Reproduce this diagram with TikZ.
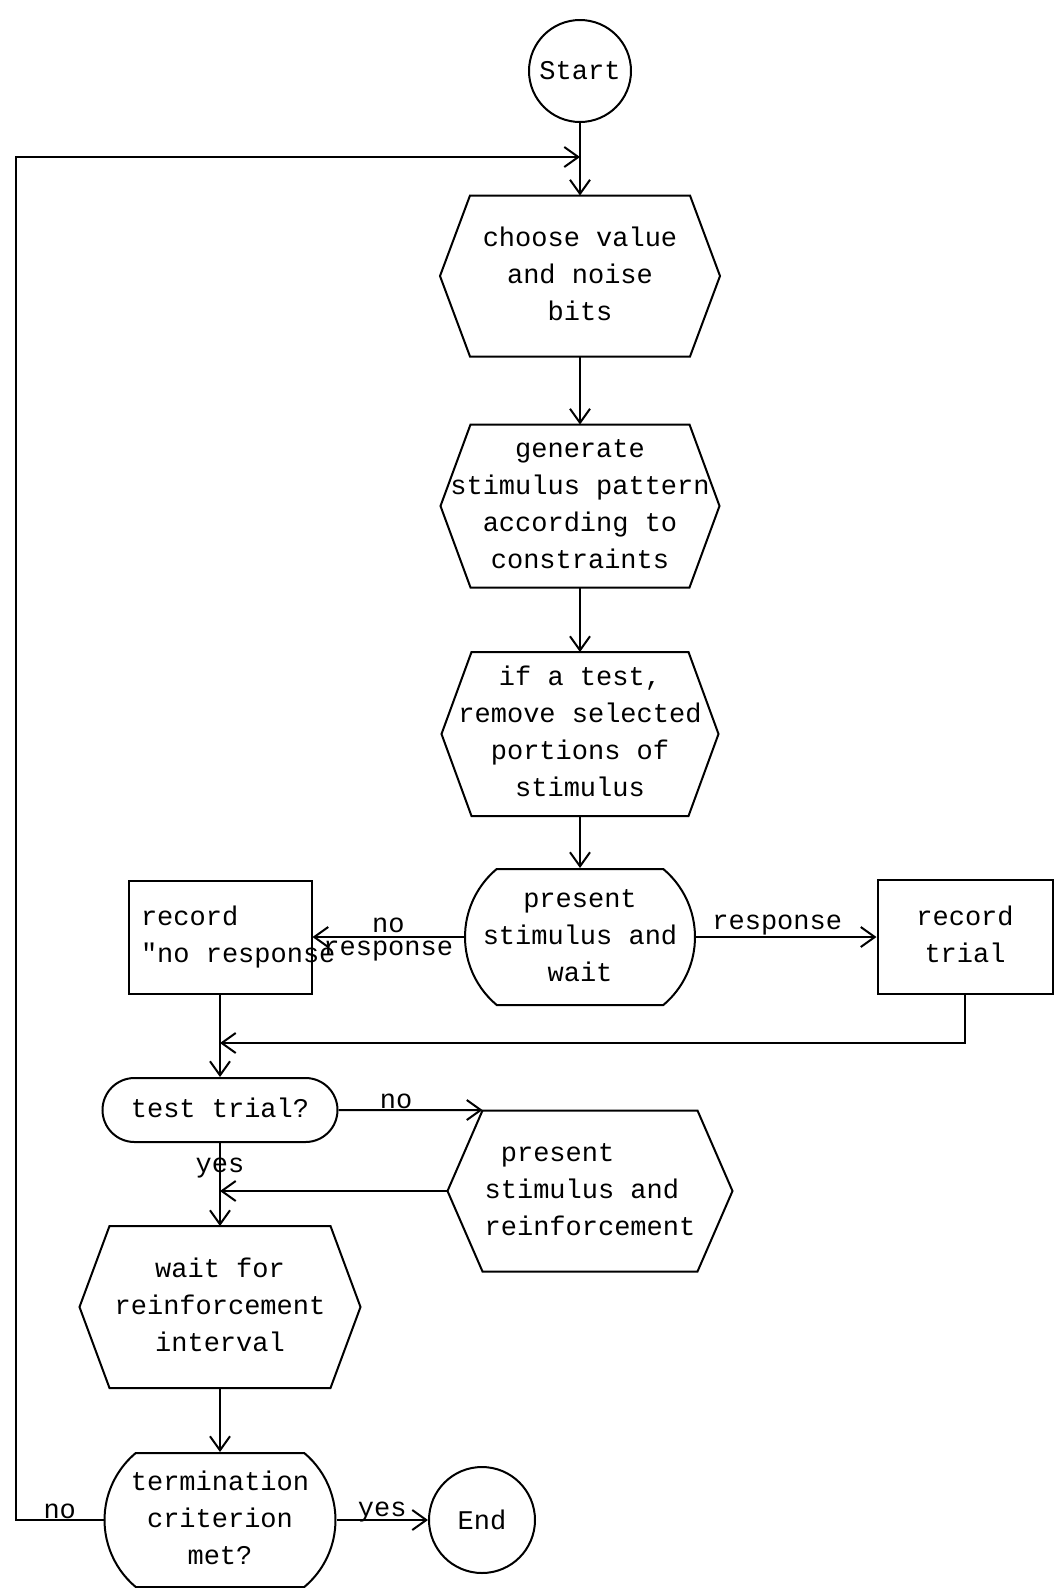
\documentclass[tikz,border=0pt]{standalone}
\usepackage{fontspec}
\setmainfont{Liberation Mono}[Ligatures=TeXOff]
\usetikzlibrary{arrows.meta,shapes.misc}

% hexagon round a text-less rectangle node, tips stick out by #1
\newcommand{\hexoutline}[2][30pt]{%
  \draw (#2.north west) -- (#2.north east) -- ([xshift=#1]#2.east)
    -- (#2.south east) -- (#2.south west) -- ([xshift=-#1]#2.west) -- cycle;}
\newcommand{\boxlines}[1]{\makebox[0pt]{\begin{tabular}{@{}c@{}}#1\end{tabular}}}
\newcommand{\boxlinesl}[1]{\makebox[0pt]{\begin{tabular}{@{}l@{}}#1\end{tabular}}}

\begin{document}
\begin{tikzpicture}[x=1pt, y=-1pt, line width=2pt,
  >={Straight Barb[length=14pt,width=20pt]},
  every node/.style={font=\fontsize{27}{37}\selectfont},
  circ/.style={draw, circle, inner sep=0pt},
  blk/.style={draw, rectangle, inner sep=0pt},
  hexa/.style={rectangle, inner sep=0pt},
  bulge/.style={draw, rounded rectangle, rounded rectangle arc length=100, inner sep=0pt},
  pill/.style={draw, rounded rectangle, inner sep=0pt}]
 \useasboundingbox (0,0) rectangle (1054,1588);

 % main column
 \node [circ, minimum size=102pt] (start) at (580,71) {Start};
 \coordinate (j1) at (580,157);
 \node [hexa, minimum width=218pt, minimum height=159pt] (hex1) at (580,276)
   {\boxlines{choose value\\and noise\\bits}};
 \node [hexa, minimum width=217pt, minimum height=161pt] (hex2) at (580,506)
   {\boxlines{generate\\stimulus pattern\\according to\\constraints}};
 \node [hexa, minimum width=215pt, minimum height=162pt] (hex3) at (580,734)
   {\boxlines{if a test,\\remove selected\\portions of\\stimulus}};
 \node [bulge, minimum width=230pt, minimum height=136pt] (present) at (580,937)
   {\boxlines{present\\stimulus and\\wait}};
 \hexoutline{hex1}
 \hexoutline{hex2}
 \hexoutline{hex3}

 % side boxes
 \node [blk, minimum width=183pt, minimum height=113pt] (recnr) at (220,937)
   {\makebox[0pt][l]{\hspace*{-79pt}\begin{tabular}{@{}l@{}}record\\"no response\end{tabular}}};
 \node [blk, minimum width=175pt, minimum height=114pt] (rectr) at (965,937)
   {\boxlines{record\\trial}};
 \coordinate (j2) at (220,1043);

 % lower part
 \node [pill, minimum width=235pt, minimum height=64pt] (test) at (220,1110) {\boxlines{test trial?}};
 \node [hexa, minimum width=213pt, minimum height=159pt] (hex4) at (590,1191)
   {\boxlinesl{\hspace*{0.6em}present\\stimulus and\\reinforcement}};
 \coordinate (j3) at (220,1191);
 \node [hexa, minimum width=219pt, minimum height=160pt] (hex5) at (220,1307)
   {\boxlines{wait for\\reinforcement\\interval}};
 \node [bulge, minimum width=231pt, minimum height=134pt] (term) at (220,1520)
   {\boxlines{termination\\criterion\\met?}};
 \node [circ, minimum size=106pt] (end) at (482,1520) {End};
 \coordinate (j4) at (16,1520);
 \hexoutline[35pt]{hex4}
 \hexoutline{hex5}

 % connectors
 \draw [->] (start) -- (hex1);
 \draw [->] (hex1) -- (hex2);
 \draw [->] (hex2) -- (hex3);
 \draw [->] (hex3) -- (present);
 \draw [->] (present) -- node [above=0pt] {no} node [below=0pt] {response} (recnr);
 \draw [->] (present) -- node [above=-2pt, pos=0.45] {response} (rectr);
 \draw [->] (rectr) |- (j2);
 \draw [->] (recnr) -- (test);
 \draw [->] (test) -- node [above=-3pt, pos=0.4] {no} (test -| hex4.north west);
 \draw [->] ([xshift=-35pt]hex4.west) -- (j3);
 \draw [->] (test) -- node [pos=0.3] {yes} (hex5);
 \draw [->] (hex5) -- (term);
 \draw [->] (term) -- node [above=-6pt] {yes} (end);
 \draw [->] (term) -- node [above=-3pt] {no} (j4) |- (j1);
\end{tikzpicture}
\end{document}
